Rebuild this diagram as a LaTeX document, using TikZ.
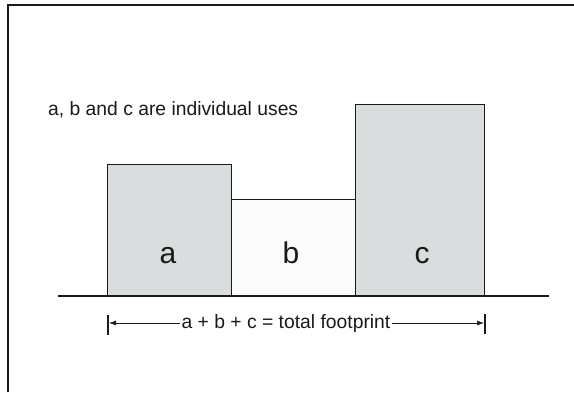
\documentclass[tikz,border=0pt]{standalone}
\usepackage{fontspec}
\setmainfont{Liberation Sans}
\usetikzlibrary{arrows.meta}
\definecolor{boxgray}{HTML}{DADDDE}
\definecolor{boxlight}{HTML}{FCFCFC}
\definecolor{ink}{HTML}{1A1A1A}
\begin{document}
\begin{tikzpicture}[x=1pt,y=-1pt,
  usebox/.style={draw=ink,line width=0.9pt,inner sep=0pt,outer sep=0pt,anchor=south west},
  biglabel/.style={font=\fontsize{30}{36}\selectfont,text=ink,anchor=base,inner sep=0pt},
  smalltext/.style={font=\fontsize{19.3}{23}\selectfont,text=ink,inner sep=1pt},
  dimline/.style={draw=ink,line width=0.7pt},
  tickline/.style={draw=ink,line width=1.2pt},
  frameline/.style={draw=ink,line width=1.2pt}]
\useasboundingbox (0,0) rectangle (574,392);
\fill[white] (0,0) rectangle (574,392);
% frame
\coordinate (fbl) at (8,392);
\coordinate (ftl) at (8,5);
\coordinate (ftr) at (574,5);
\draw[frameline] (fbl) -- (ftl) -- (ftr);
% boxes
\node[usebox,fill=boxgray,minimum width=124pt,minimum height=132pt] (a) at (107,296) {};
\node[usebox,fill=boxlight,minimum width=124pt,minimum height=97pt] (b) at (231,296) {};
\node[usebox,fill=boxgray,minimum width=129pt,minimum height=192pt] (c) at (355,296) {};
% ground
\coordinate (g1) at (58,296);
\coordinate (g2) at (549,296);
\draw[draw=ink,line width=1.3pt] (g1) -- (g2);
% labels
\node[biglabel] (la) at (168,263) {a};
\node[biglabel] (lb) at (291,263) {b};
\node[biglabel] (lc) at (422,263) {c};
\node[smalltext,anchor=base west] (cap) at (47,115) {a, b and c are individual uses};
% dimension
\node[smalltext,anchor=base] (ft) at (286,328) {a + b + c = total footprint};
\coordinate (L) at (109,323);
\coordinate (R) at (484,323);
\coordinate (Lt) at (108,315);
\coordinate (Lb) at (108,335);
\coordinate (Rt) at (485,314);
\coordinate (Rb) at (485,334);
\draw[tickline] (Lt) -- (Lb);
\draw[tickline] (Rt) -- (Rb);
\draw[dimline,-{Latex[length=7pt,width=5pt]}] (L -| ft.west) -- (L);
\draw[dimline,-{Latex[length=7pt,width=5pt]}] (R -| ft.east) -- (R);
\end{tikzpicture}
\end{document}
